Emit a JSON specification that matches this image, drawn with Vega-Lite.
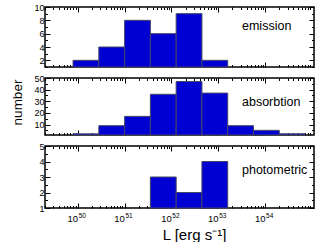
{
  "$schema": "https://vega.github.io/schema/vega-lite/v6.json",
  "autosize": {"type": "pad"},
  "padding": {"left": 9, "top": 2, "right": 5, "bottom": 2},
  "background": "white",
  "config": {
    "view": {"stroke": "black", "strokeWidth": 1.5},
    "font": "Liberation Sans",
    "axis": {"domain": false, "grid": false, "tickColor": "black", "tickWidth": 1, "labelColor": "black", "labelFont": "Liberation Sans", "labelFontSize": 9, "labelOverlap": false, "labelFlush": false, "labelBound": false, "labelPadding": 6, "titleColor": "black", "titleFont": "Liberation Sans", "titleFontWeight": "normal"}
  },
  "datasets": {
    "emission": [
      {"lo": 7.94e49, "hi": 2.818e50, "count": 2},
      {"lo": 2.818e50, "hi": 1e51, "count": 4},
      {"lo": 1e51, "hi": 3.548e51, "count": 8},
      {"lo": 3.548e51, "hi": 1.259e52, "count": 6},
      {"lo": 1.259e52, "hi": 4.467e52, "count": 9},
      {"lo": 4.467e52, "hi": 1.585e53, "count": 2}
    ],
    "absorption": [
      {"lo": 7.94e49, "hi": 2.818e50, "count": 2},
      {"lo": 2.818e50, "hi": 1e51, "count": 9},
      {"lo": 1e51, "hi": 3.548e51, "count": 17},
      {"lo": 3.548e51, "hi": 1.259e52, "count": 36},
      {"lo": 1.259e52, "hi": 4.467e52, "count": 47},
      {"lo": 4.467e52, "hi": 1.585e53, "count": 37},
      {"lo": 1.585e53, "hi": 5.623e53, "count": 9},
      {"lo": 5.623e53, "hi": 1.995e54, "count": 5},
      {"lo": 1.995e54, "hi": 7.079e54, "count": 2}
    ],
    "photometric": [
      {"lo": 3.548e51, "hi": 1.259e52, "count": 3},
      {"lo": 1.259e52, "hi": 4.467e52, "count": 2},
      {"lo": 4.467e52, "hi": 1.585e53, "count": 4}
    ]
  },
  "spacing": 11,
  "bounds": "flush",
  "vconcat": [
    {
      "width": 269, "height": 60,
      "layer": [
        {
          "data": {"name": "emission"},
          "mark": {"type": "rect", "fill": "#0000d2", "stroke": "#444466", "strokeWidth": 1},
          "encoding": {
            "x": {"field": "lo", "type": "quantitative", "scale": {"type": "log", "domain": [2e49, 1.1e55], "nice": false},
              "axis": {"orient": "bottom", "title": null, "labels": false, "values": [2e49,3e49,4e49,5e49,6e49,7e49,8e49,9e49,1e50,2e50,3e50,4e50,5e50,6e50,7e50,8e50,9e50,1e51,2e51,3e51,4e51,5e51,6e51,7e51,8e51,9e51,1e52,2e52,3e52,4e52,5e52,6e52,7e52,8e52,9e52,1e53,2e53,3e53,4e53,5e53,6e53,7e53,8e53,9e53,1e54,2e54,3e54,4e54,5e54,6e54,7e54,8e54,9e54],
                "tickSize": {"condition": {"test": "datum.value == 1e50 || datum.value == 1e51 || datum.value == 1e52 || datum.value == 1e53 || datum.value == 1e54", "value": -5}, "value": -2.5}}},
            "x2": {"field": "hi"},
            "y": {"field": "count", "type": "quantitative", "scale": {"domain": [1, 10], "nice": false, "zero": false},
              "axis": {"orient": "left", "title": null, "values": [1,2,3,4,5,6,7,8,9,10], "labelExpr": "datum.value % 2 == 0 ? datum.label : ''",
                "tickSize": {"condition": {"test": "datum.value % 2 == 0", "value": -5}, "value": -2.5}}},
            "y2": {"datum": 1}
          }
        },
        {
          "data": {"values": [{"label": "emission"}]},
          "mark": {"type": "text", "align": "left", "baseline": "alphabetic", "fontSize": 12.5, "color": "black"},
          "encoding": {
            "x": {"datum": 3.2e53, "type": "quantitative",
              "axis": {"orient": "top", "title": null, "labels": false, "values": [2e49,3e49,4e49,5e49,6e49,7e49,8e49,9e49,1e50,2e50,3e50,4e50,5e50,6e50,7e50,8e50,9e50,1e51,2e51,3e51,4e51,5e51,6e51,7e51,8e51,9e51,1e52,2e52,3e52,4e52,5e52,6e52,7e52,8e52,9e52,1e53,2e53,3e53,4e53,5e53,6e53,7e53,8e53,9e53,1e54,2e54,3e54,4e54,5e54,6e54,7e54,8e54,9e54],
                "tickSize": {"condition": {"test": "datum.value == 1e50 || datum.value == 1e51 || datum.value == 1e52 || datum.value == 1e53 || datum.value == 1e54", "value": -5}, "value": -2.5}}},
            "y": {"datum": 6.6, "type": "quantitative",
              "axis": {"orient": "right", "title": null, "labels": false, "values": [1,2,3,4,5,6,7,8,9,10],
                "tickSize": {"condition": {"test": "datum.value % 2 == 0", "value": -5}, "value": -2.5}}},
            "text": {"field": "label"}
          }
        }
      ],
      "resolve": {"axis": {"x": "independent", "y": "independent"}}
    },
    {
      "width": 269, "height": 57,
      "layer": [
        {
          "data": {"name": "absorption"},
          "mark": {"type": "rect", "fill": "#0000d2", "stroke": "#444466", "strokeWidth": 1},
          "encoding": {
            "x": {"field": "lo", "type": "quantitative", "scale": {"type": "log", "domain": [2e49, 1.1e55], "nice": false},
              "axis": {"orient": "bottom", "title": null, "labels": false, "values": [2e49,3e49,4e49,5e49,6e49,7e49,8e49,9e49,1e50,2e50,3e50,4e50,5e50,6e50,7e50,8e50,9e50,1e51,2e51,3e51,4e51,5e51,6e51,7e51,8e51,9e51,1e52,2e52,3e52,4e52,5e52,6e52,7e52,8e52,9e52,1e53,2e53,3e53,4e53,5e53,6e53,7e53,8e53,9e53,1e54,2e54,3e54,4e54,5e54,6e54,7e54,8e54,9e54],
                "tickSize": {"condition": {"test": "datum.value == 1e50 || datum.value == 1e51 || datum.value == 1e52 || datum.value == 1e53 || datum.value == 1e54", "value": -5}, "value": -2.5}}},
            "x2": {"field": "hi"},
            "y": {"field": "count", "type": "quantitative", "scale": {"domain": [1, 50], "nice": false, "zero": false},
              "axis": {"orient": "left", "values": [5,10,15,20,25,30,35,40,45,50], "labelExpr": "datum.value % 10 == 0 ? datum.label : ''",
                "title": "number", "titleFontSize": 13.5, "titleX": -28, "titleY": 24, "titleAlign": "center", "titleBaseline": "middle", "titleAngle": -90,
                "tickSize": {"condition": {"test": "datum.value % 10 == 0", "value": -5}, "value": -2.5}}},
            "y2": {"datum": 1}
          }
        },
        {
          "data": {"values": [{"label": "absorbtion"}]},
          "mark": {"type": "text", "align": "left", "baseline": "alphabetic", "fontSize": 12.5, "color": "black"},
          "encoding": {
            "x": {"datum": 3.2e53, "type": "quantitative",
              "axis": {"orient": "top", "title": null, "labels": false, "values": [2e49,3e49,4e49,5e49,6e49,7e49,8e49,9e49,1e50,2e50,3e50,4e50,5e50,6e50,7e50,8e50,9e50,1e51,2e51,3e51,4e51,5e51,6e51,7e51,8e51,9e51,1e52,2e52,3e52,4e52,5e52,6e52,7e52,8e52,9e52,1e53,2e53,3e53,4e53,5e53,6e53,7e53,8e53,9e53,1e54,2e54,3e54,4e54,5e54,6e54,7e54,8e54,9e54],
                "tickSize": {"condition": {"test": "datum.value == 1e50 || datum.value == 1e51 || datum.value == 1e52 || datum.value == 1e53 || datum.value == 1e54", "value": -5}, "value": -2.5}}},
            "y": {"datum": 25.7, "type": "quantitative",
              "axis": {"orient": "right", "title": null, "labels": false, "values": [5,10,15,20,25,30,35,40,45,50],
                "tickSize": {"condition": {"test": "datum.value % 10 == 0", "value": -5}, "value": -2.5}}},
            "text": {"field": "label"}
          }
        }
      ],
      "resolve": {"axis": {"x": "independent", "y": "independent"}}
    },
    {
      "width": 269, "height": 62,
      "layer": [
        {
          "data": {"name": "photometric"},
          "mark": {"type": "rect", "fill": "#0000d2", "stroke": "#444466", "strokeWidth": 1},
          "encoding": {
            "x": {"field": "lo", "type": "quantitative", "scale": {"type": "log", "domain": [2e49, 1.1e55], "nice": false},
              "axis": {"orient": "bottom", "values": [2e49,3e49,4e49,5e49,6e49,7e49,8e49,9e49,1e50,2e50,3e50,4e50,5e50,6e50,7e50,8e50,9e50,1e51,2e51,3e51,4e51,5e51,6e51,7e51,8e51,9e51,1e52,2e52,3e52,4e52,5e52,6e52,7e52,8e52,9e52,1e53,2e53,3e53,4e53,5e53,6e53,7e53,8e53,9e53,1e54,2e54,3e54,4e54,5e54,6e54,7e54,8e54,9e54],
                "labelExpr": "datum.value == 1e50 || datum.value == 1e51 || datum.value == 1e52 || datum.value == 1e53 || datum.value == 1e54 ? '10' : ''",
                "labelFontSize": 9.5, "labelPadding": 10, "labelOffset": -5.5,
                "title": "L [erg s⁻¹]", "titleFontSize": 15, "titleX": 149, "titleY": 31, "titleAlign": "center", "titleBaseline": "alphabetic",
                "tickSize": {"condition": {"test": "datum.value == 1e50 || datum.value == 1e51 || datum.value == 1e52 || datum.value == 1e53 || datum.value == 1e54", "value": -5}, "value": -2.5}}},
            "x2": {"field": "hi"},
            "y": {"field": "count", "type": "quantitative", "scale": {"domain": [1, 5], "nice": false, "zero": false},
              "axis": {"orient": "left", "title": null, "values": [1,1.5,2,2.5,3,3.5,4,4.5,5], "labelExpr": "datum.value % 1 == 0 ? format(datum.value, 'd') : ''",
                "tickSize": {"condition": {"test": "datum.value % 1 == 0", "value": -5}, "value": -2.5}}},
            "y2": {"datum": 1}
          }
        },
        {
          "data": {"values": [{"label": "photometric"}]},
          "mark": {"type": "text", "align": "left", "baseline": "alphabetic", "fontSize": 12.5, "color": "black"},
          "encoding": {
            "x": {"datum": 3.2e53, "type": "quantitative",
              "axis": {"orient": "top", "title": null, "labels": false, "values": [2e49,3e49,4e49,5e49,6e49,7e49,8e49,9e49,1e50,2e50,3e50,4e50,5e50,6e50,7e50,8e50,9e50,1e51,2e51,3e51,4e51,5e51,6e51,7e51,8e51,9e51,1e52,2e52,3e52,4e52,5e52,6e52,7e52,8e52,9e52,1e53,2e53,3e53,4e53,5e53,6e53,7e53,8e53,9e53,1e54,2e54,3e54,4e54,5e54,6e54,7e54,8e54,9e54],
                "tickSize": {"condition": {"test": "datum.value == 1e50 || datum.value == 1e51 || datum.value == 1e52 || datum.value == 1e53 || datum.value == 1e54", "value": -5}, "value": -2.5}}},
            "y": {"datum": 3.19, "type": "quantitative",
              "axis": {"orient": "right", "title": null, "labels": false, "values": [1,1.5,2,2.5,3,3.5,4,4.5,5],
                "tickSize": {"condition": {"test": "datum.value % 1 == 0", "value": -5}, "value": -2.5}}},
            "text": {"field": "label"}
          }
        },
        {
          "data": {"values": [{"label": ""}]},
          "mark": {"type": "text", "opacity": 0},
          "encoding": {
            "x": {"datum": 3.2e53, "type": "quantitative",
              "axis": {"orient": "bottom", "title": null, "ticks": false, "values": [1e50,1e51,1e52,1e53,1e54],
                "labelExpr": "format(log(datum.value)/LN10, '.0f')", "labelFontSize": 6.5, "labelPadding": 4, "labelOffset": 4}},
            "y": {"datum": 3, "type": "quantitative", "axis": null},
            "text": {"field": "label"}
          }
        }
      ],
      "resolve": {"axis": {"x": "independent", "y": "independent"}}
    }
  ]
}
